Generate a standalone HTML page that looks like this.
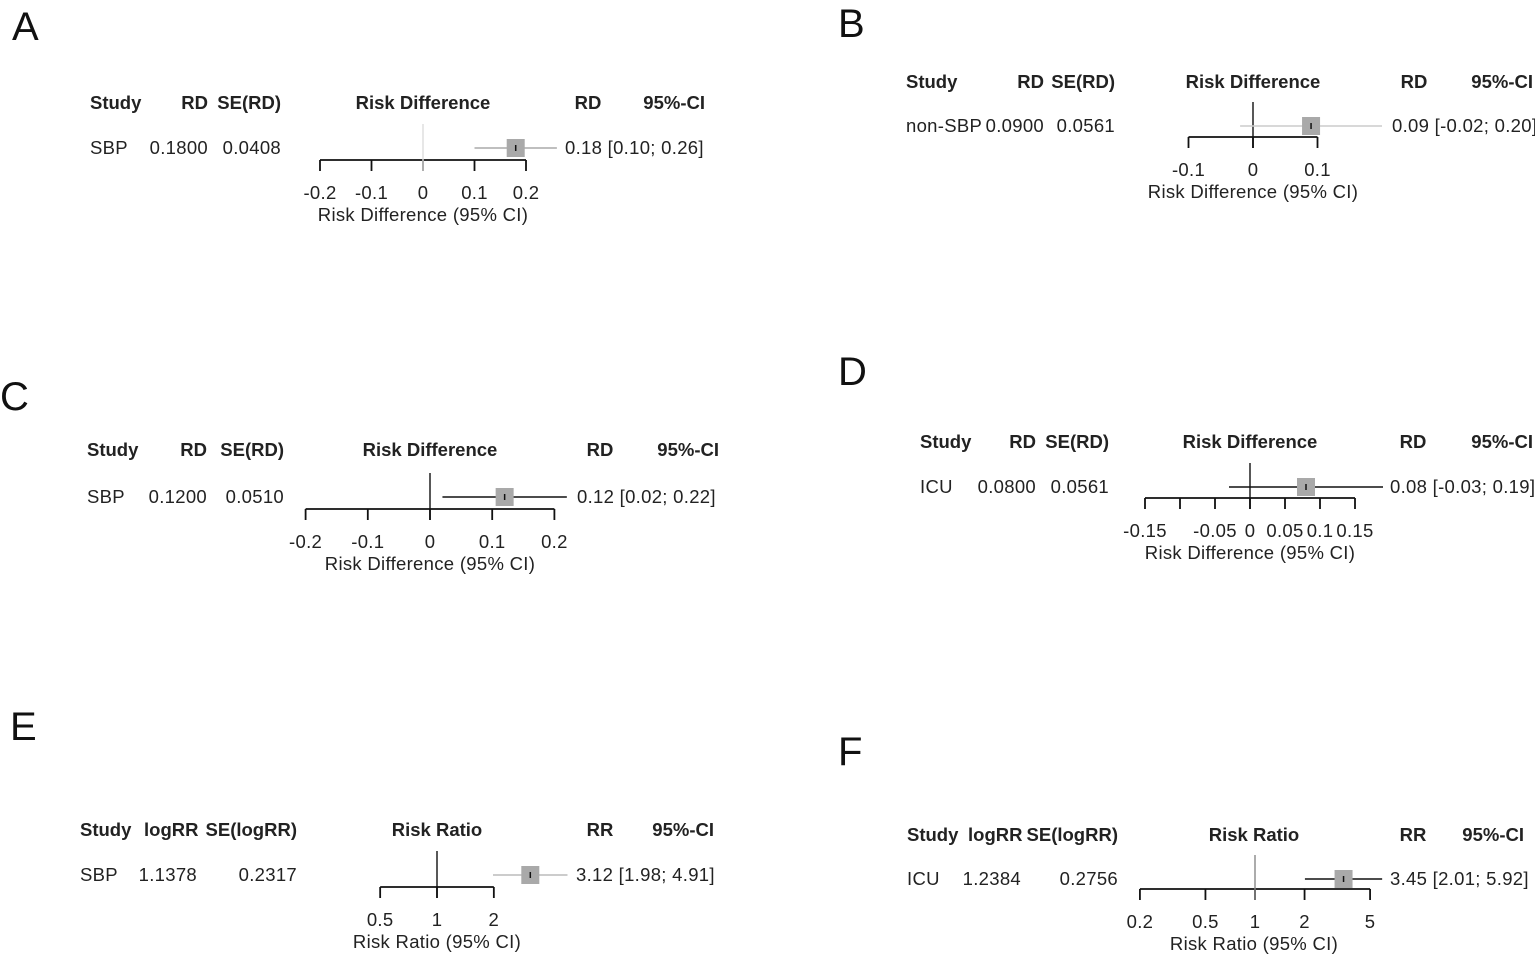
<!DOCTYPE html>
<html><head><meta charset="utf-8">
<style>
html,body{margin:0;padding:0;background:#fff;}
svg{display:block;font-family:"Liberation Sans",Arial,sans-serif;}
.h{font-weight:bold;font-size:18.5px;fill:#222;}
.t{font-size:18.5px;fill:#222;letter-spacing:0.3px;}
.L{font-size:40px;fill:#111;}
</style></head>
<body>
<svg id="fig" width="1535" height="961" viewBox="0 0 1535 961">
<text class="L" x="12" y="40">A</text>
<text class="L" x="838" y="37">B</text>
<text class="L" x="0" y="410">C</text>
<text class="L" x="838" y="385">D</text>
<text class="L" x="10" y="740">E</text>
<text class="L" x="838" y="765">F</text>
</svg>
<script>
// Data arrays
const studies = ["SBP","non-SBP","SBP","ICU","SBP","ICU"];
const estimates = [0.18, 0.09, 0.12, 0.08, 3.12, 3.45];
const lowerCI = [0.10, -0.02, 0.02, -0.03, 1.98, 2.01];
const upperCI = [0.26, 0.20, 0.22, 0.19, 4.91, 5.92];
const col1 = ["0.1800","0.0900","0.1200","0.0800","1.1378","1.2384"];
const col2 = ["0.0408","0.0561","0.0510","0.0561","0.2317","0.2756"];
const effText = ["0.18 [0.10; 0.26]","0.09 [-0.02; 0.20]","0.12 [0.02; 0.22]","0.08 [-0.03; 0.19]","3.12 [1.98; 4.91]","3.45 [2.01; 5.92]"];
const ticksA = [-0.2,-0.1,0,0.1,0.2];
const ticksB = [-0.1,0,0.1];
const ticksC = [-0.2,-0.1,0,0.1,0.2];
const ticksD = [-0.15,-0.1,-0.05,0,0.05,0.1,0.15];
const tickLabelsD = ["-0.15","","-0.05","0","0.05","0.1","0.15"];
const ticksE = [0.5,1,2];
const ticksF = [0.2,0.5,1,2,5];

// Layout (not data)
const panels = [
 {id:"a",ticks:ticksA,labels:ticksA.map(String),log:false,zx:423,scale:515,hy:103,ry:148,ay:160,
  sx:90,c1r:208,c2r:281,midC:423,rdC:588,ciR:705,vx:565,h1:"RD",h2:"SE(RD)",title:"Risk Difference",rh:"RD",ciCol:"#aaa",zCol:"#ddd",xlab:"Risk Difference (95% CI)"},
 {id:"b",ticks:ticksB,labels:ticksB.map(String),log:false,zx:1253,scale:645,hy:82,ry:126,ay:137,
  sx:906,c1r:1044,c2r:1115,midC:1253,rdC:1414,ciR:1533,vx:1392,h1:"RD",h2:"SE(RD)",title:"Risk Difference",rh:"RD",ciCol:"#ccc",zCol:"#111",xlab:"Risk Difference (95% CI)"},
 {id:"c",ticks:ticksC,labels:ticksC.map(String),log:false,zx:430,scale:622,hy:450,ry:497,ay:509,
  sx:87,c1r:207,c2r:284,midC:430,rdC:600,ciR:719,vx:577,h1:"RD",h2:"SE(RD)",title:"Risk Difference",rh:"RD",ciCol:"#111",zCol:"#111",xlab:"Risk Difference (95% CI)"},
 {id:"d",ticks:ticksD,labels:tickLabelsD,log:false,zx:1250,scale:700,hy:442,ry:487,ay:498,
  sx:920,c1r:1036,c2r:1109,midC:1250,rdC:1413,ciR:1533,vx:1390,h1:"RD",h2:"SE(RD)",title:"Risk Difference",rh:"RD",ciCol:"#111",zCol:"#111",xlab:"Risk Difference (95% CI)"},
 {id:"e",ticks:ticksE,labels:ticksE.map(String),log:true,zx:437,scale:82,hy:830,ry:875,ay:887,
  sx:80,c1r:197,c2r:297,midC:437,rdC:600,ciR:714,vx:576,h1:"logRR",h2:"SE(logRR)",title:"Risk Ratio",rh:"RR",ciCol:"#bbb",zCol:"#111",xlab:"Risk Ratio (95% CI)"},
 {id:"f",ticks:ticksF,labels:ticksF.map(String),log:true,zx:1255,scale:71.5,hy:835,ry:879,ay:889,
  sx:907,c1r:1021,c2r:1118,midC:1254,rdC:1413,ciR:1524,vx:1390,h1:"logRR",h2:"SE(logRR)",title:"Risk Ratio",rh:"RR",ciCol:"#111",zCol:"#888",xlab:"Risk Ratio (95% CI)"}
];
const NS="http://www.w3.org/2000/svg";
const svg=document.getElementById("fig");
function mk(tag,attrs,parent,txt){const e=document.createElementNS(NS,tag);for(const k in attrs)e.setAttribute(k,attrs[k]);if(txt!==undefined)e.textContent=txt;parent.appendChild(e);return e;}
panels.forEach((p,i)=>{
  const g=mk("g",{},svg);
  
  
  const X=v=>p.zx+p.scale*(p.log?Math.log(v):v);
  const hdr=[["Study",p.sx,"start"],[p.h1,p.c1r,"end"],[p.h2,p.c2r,"end"],[p.title,p.midC,"middle"],[p.rh,p.rdC,"middle"],["95%-CI",p.ciR,"end"]];
  if(p.log){hdr[1]=[p.h1,(p.id==="e"?144:968),"start"];}
  hdr.forEach((h,j)=>{const t=mk("text",{class:"h",x:h[1],y:p.hy+6,"text-anchor":h[2]},g,h[0]);
    
    });
  const row=[[studies[i],p.sx,"start"],[col1[i],p.c1r,"end"],[col2[i],p.c2r,"end"],[effText[i],p.vx,"start"]];
  row.forEach((r,j)=>{const t=mk("text",{class:"t",x:r[1],y:p.ry+6,"text-anchor":r[2]},g,r[0]);
    
    });
  const x0=X(p.ticks[0]),x1=X(p.ticks[p.ticks.length-1]);
  const ax=mk("line",{x1:x0,x2:x1,y1:p.ay,y2:p.ay,stroke:"#111","stroke-width":1.8},g);
  
  
  p.ticks.forEach((tv,j)=>{
    const tk=mk("line",{x1:X(tv),x2:X(tv),y1:p.ay,y2:p.ay+11,stroke:"#111","stroke-width":1.8},g);
    
    
    const tl=mk("text",{class:"t",x:X(tv),y:p.ay+39,"text-anchor":"middle"},g,p.labels[j]);
    
    
  });
  const xl=mk("text",{class:"t",x:p.midC,y:p.ay+61,"text-anchor":"middle"},g,p.xlab);
  
  
  const nv=p.log?1:0;
  const z=mk("line",{x1:X(nv),x2:X(nv),y1:p.ry-24,y2:p.ay+11,stroke:p.zCol,"stroke-width":1.4},g);
  
  
  const ci=mk("line",{x1:X(lowerCI[i]),x2:X(upperCI[i]),y1:p.ry,y2:p.ry,stroke:p.ciCol,"stroke-width":1.4},g);
  
  
  const ex=X(estimates[i]);
  const sq=mk("rect",{x:ex-9,y:p.ry-9,width:18,height:18,fill:"#a9a9a9"},g);
  
  
  const dot=mk("line",{x1:ex,x2:ex,y1:p.ry-3,y2:p.ry+3,stroke:"#111","stroke-width":1.5},g);
  
  
});
</script>
</body></html>
